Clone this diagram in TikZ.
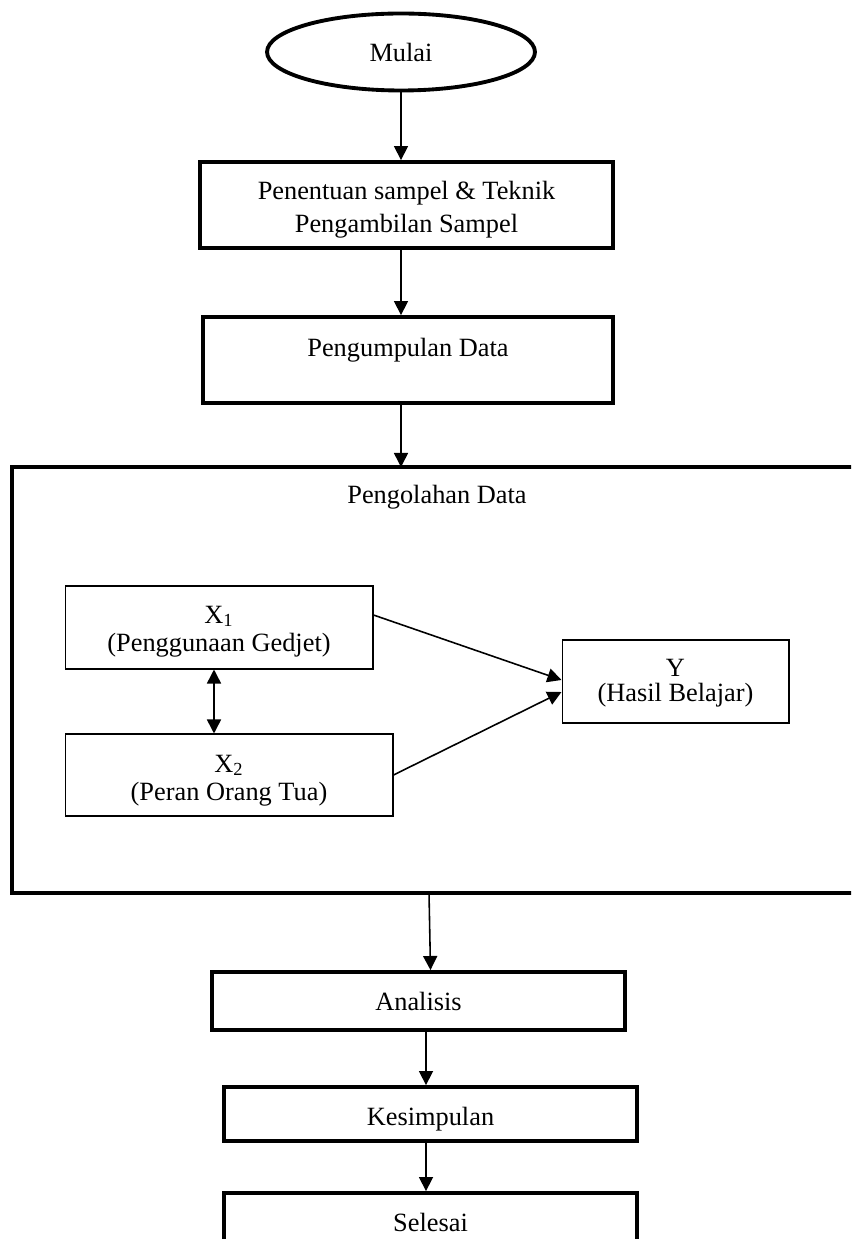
\documentclass[tikz,border=0pt]{standalone}
\usepackage{fontspec}
\setmainfont{Liberation Serif}
\usetikzlibrary{arrows.meta,shapes.geometric}
\begin{document}
\begin{tikzpicture}[x=0.02cm,y=-0.02cm,
    tebal/.style={draw,line width=2.2pt,inner sep=0cm,align=center,font=\fontsize{15}{18.5}\selectfont},
    tipis/.style={draw,line width=0.6pt,inner sep=0cm,align=center,font=\fontsize{15}{16}\selectfont},
    panah/.style={line width=0.9pt,-{Triangle[length=8pt,width=8pt]}},
    duapanah/.style={line width=0.9pt,{Triangle[length=8pt,width=8pt]}-{Triangle[length=8pt,width=8pt]}}]
  \clip (0,0) rectangle (851,1239);

  \node[tebal,ellipse,minimum width=5.36cm,minimum height=1.54cm] (mulai) at (401,52) {Mulai} ;
  \node[tebal,minimum width=8.26cm,minimum height=1.72cm] (sampel) at (406.5,205) {\rule{0pt}{16pt}Penentuan sampel \& Teknik\\Pengambilan Sampel} ;
  \node[tebal,minimum width=8.2cm,minimum height=1.72cm,text height=10pt,text depth=14.5pt] (kumpul) at (408,360) {Pengumpulan Data} ;

  \draw[line width=2.2pt] (12,467) rectangle (880,893) ;
  \coordinate (olahatas) at (401,467) ;
  \coordinate (olahbawah) at (429,893) ;
  \node[font=\fontsize{15}{16}\selectfont] (olah) at (437,497) {Pengolahan Data} ;

  \node[tipis,minimum width=6.16cm,minimum height=1.66cm] (xsatu) at (219,627.5) {\rule{0pt}{14.3pt}X\textsubscript{1}\\(Penggunaan Gedjet)} ;
  \node[tipis,minimum width=6.56cm,minimum height=1.64cm] (xdua) at (229,775) {\rule{0pt}{15.9pt}X\textsubscript{2}\\(Peran Orang Tua)} ;
  \node[tipis,minimum width=4.54cm,minimum height=1.66cm,font=\fontsize{15}{14.7}\selectfont] (yhasil) at (675.5,681.5) {\rule{0pt}{11.7pt}Y\\(Hasil Belajar)} ;

  \node[tebal,minimum width=8.26cm,minimum height=1.16cm] (analisis) at (418.5,1001) {Analisis} ;
  \node[tebal,minimum width=8.26cm,minimum height=1.08cm,text height=13.6pt,text depth=0pt] (simpul) at (430.5,1114) {Kesimpulan} ;
  \node[tebal,minimum width=8.26cm,minimum height=1.16cm] (selesai) at (430.5,1222) {Selesai} ;

  \draw[panah] (mulai.south) -- (mulai.south |- sampel.north) ;
  \draw[panah] (mulai.south |- sampel.south) -- (mulai.south |- kumpul.north) ;
  \draw[panah] (mulai.south |- kumpul.south) -- (olahatas) ;
  \draw[panah] (olahbawah) -- ([xshift=0.24cm]analisis.north) ;
  \draw[panah] ([xshift=0.15cm]analisis.south) -- ([xshift=0.15cm]analisis.south |- simpul.north) ;
  \draw[panah] ([xshift=-0.09cm]simpul.south) -- ([xshift=-0.09cm]selesai.north) ;

  \draw[duapanah] ([xshift=-0.1cm]xsatu.south) -- ([xshift=-0.1cm]xsatu.south |- xdua.north) ;
  \draw[panah] ([yshift=0.25cm]xsatu.east) -- ([yshift=0.03cm]yhasil.west) ;
  \draw[panah] (xdua.east) -- ([yshift=-0.21cm]yhasil.west) ;
\end{tikzpicture}
\end{document}
